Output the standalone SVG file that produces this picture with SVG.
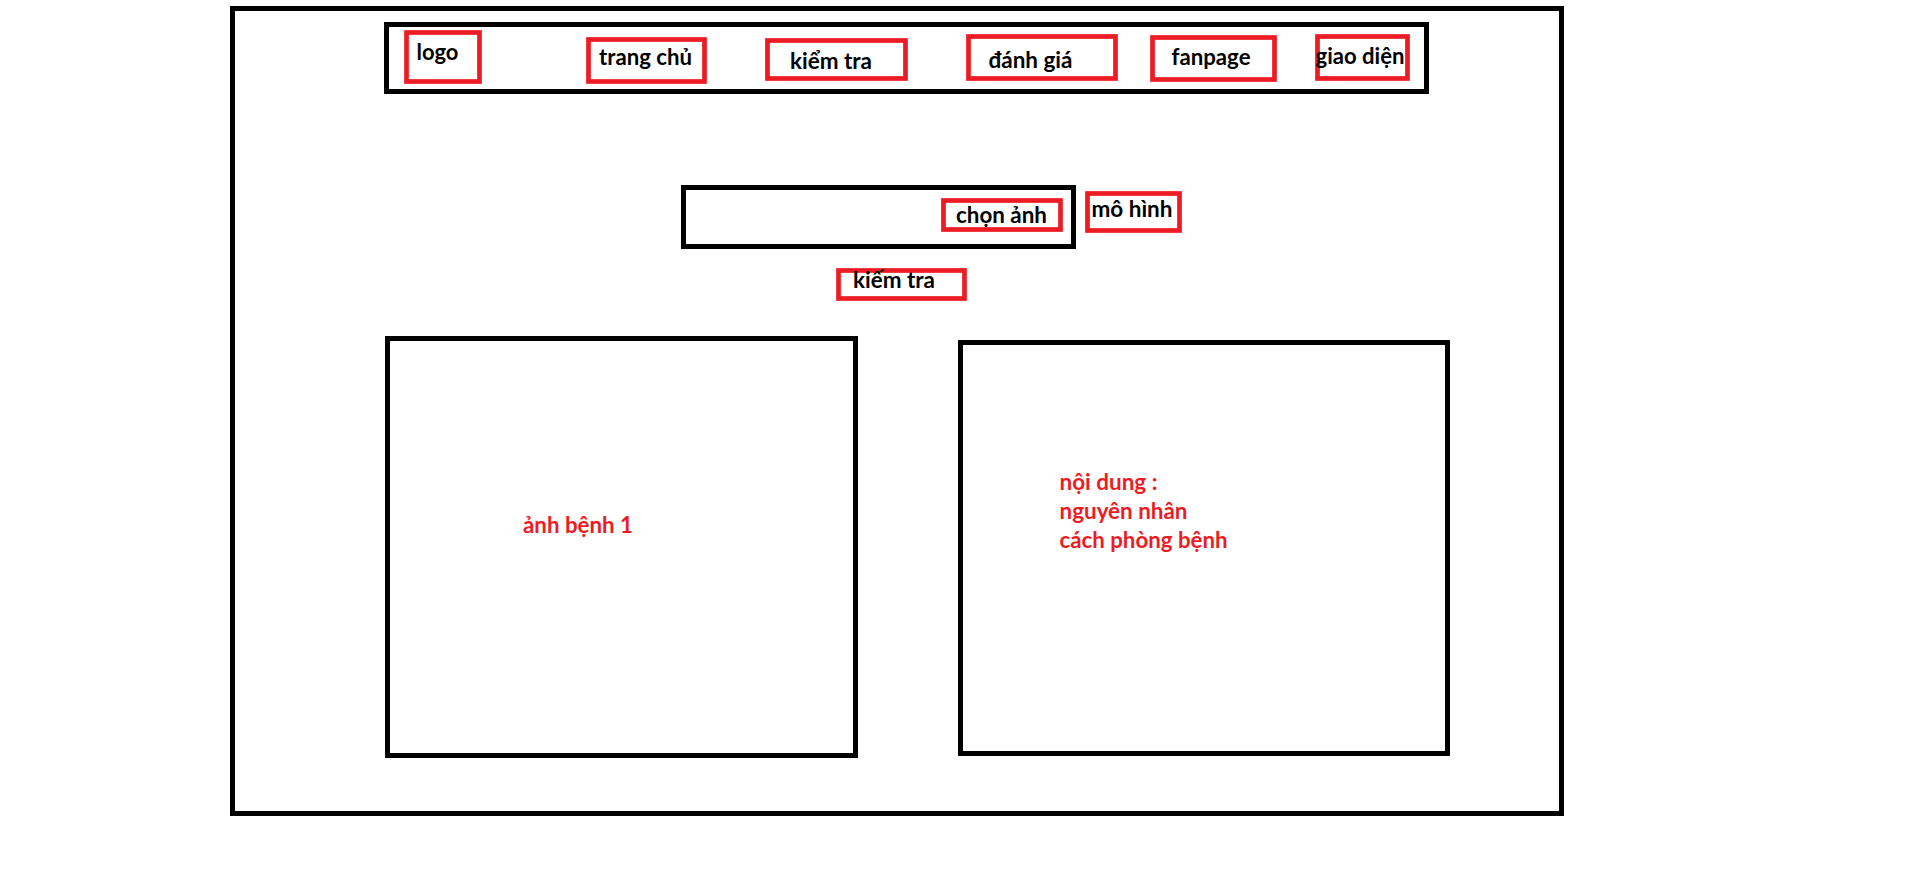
<svg xmlns="http://www.w3.org/2000/svg" width="1908" height="870" viewBox="0 0 1908 870">
  <style>
    .frame { fill: none; stroke: #000; stroke-width: 5; }
    .btn { fill: none; stroke: #ED1C24; stroke-width: 4.7; }
    .lbl { font-family: Lato, "Liberation Sans", "Noto Sans", sans-serif; font-weight: bold; font-size: 23px; fill: #000; }
    .note { font-family: Lato, "Liberation Sans", "Noto Sans", sans-serif; font-weight: bold; font-size: 23px; fill: #ED1C24; }
  </style>

  <rect x="0" y="0" width="1908" height="870" fill="#fff"/>

  <!-- page outline -->
  <g id="page">
    <rect class="frame" x="232.5" y="8.5" width="1329" height="805"/>
  </g>

  <!-- navigation bar -->
  <g id="navbar">
    <rect class="frame" x="386.5" y="24.5" width="1040" height="67"/>
  </g>
  <g id="nav-logo">
    <rect class="btn" x="406.5" y="32.5" width="73" height="49"/>
    <text class="lbl" x="416.5" y="59.5" textLength="42" lengthAdjust="spacingAndGlyphs">logo</text>
  </g>
  <g id="nav-home">
    <rect class="btn" x="588.5" y="39.5" width="116" height="42"/>
    <text class="lbl" x="599" y="65" textLength="93" lengthAdjust="spacingAndGlyphs">trang chủ</text>
  </g>
  <g id="nav-check">
    <rect class="btn" x="767.5" y="40.5" width="138" height="38"/>
    <text class="lbl" x="790" y="69" textLength="82" lengthAdjust="spacingAndGlyphs">kiểm tra</text>
  </g>
  <g id="nav-review">
    <rect class="btn" x="968.5" y="36.5" width="147" height="42"/>
    <text class="lbl" x="988.5" y="68" textLength="84" lengthAdjust="spacingAndGlyphs">đánh giá</text>
  </g>
  <g id="nav-fanpage">
    <rect class="btn" x="1152.5" y="37.5" width="122" height="42"/>
    <text class="lbl" x="1171.5" y="65" textLength="79" lengthAdjust="spacingAndGlyphs">fanpage</text>
  </g>
  <g id="nav-theme">
    <rect class="btn" x="1317.5" y="36.5" width="90" height="42"/>
    <text class="lbl" x="1315.5" y="63.5" textLength="89" lengthAdjust="spacingAndGlyphs">giao diện</text>
  </g>

  <!-- upload field -->
  <g id="upload-field">
    <rect class="frame" x="683.5" y="187.5" width="390" height="59"/>
  </g>
  <g id="choose-image">
    <rect class="btn" x="943.5" y="200.5" width="117" height="29"/>
    <text class="lbl" x="956" y="223" textLength="91" lengthAdjust="spacingAndGlyphs">chọn ảnh</text>
  </g>
  <g id="model">
    <rect class="btn" x="1087.5" y="193.5" width="92" height="37"/>
    <text class="lbl" x="1091.5" y="217" textLength="81" lengthAdjust="spacingAndGlyphs">mô hình</text>
  </g>
  <g id="check-button">
    <rect class="btn" x="838.5" y="270.5" width="126" height="28"/>
    <text class="lbl" x="853" y="288" textLength="82" lengthAdjust="spacingAndGlyphs">kiếm tra</text>
  </g>

  <!-- result panels -->
  <g id="image-panel">
    <rect class="frame" x="387.5" y="338.5" width="468" height="417"/>
    <text class="note" x="523" y="533" textLength="110" lengthAdjust="spacingAndGlyphs">ảnh bệnh 1</text>
  </g>
  <g id="info-panel">
    <rect class="frame" x="960.5" y="342.5" width="487" height="411"/>
    <text class="note" x="1059.5" y="490" textLength="98" lengthAdjust="spacingAndGlyphs">nội dung :</text>
    <text class="note" x="1059.5" y="519" textLength="128" lengthAdjust="spacingAndGlyphs">nguyên nhân</text>
    <text class="note" x="1059.5" y="548" textLength="168" lengthAdjust="spacingAndGlyphs">cách phòng bệnh</text>
  </g>

  <g id="connectors"></g>
</svg>
